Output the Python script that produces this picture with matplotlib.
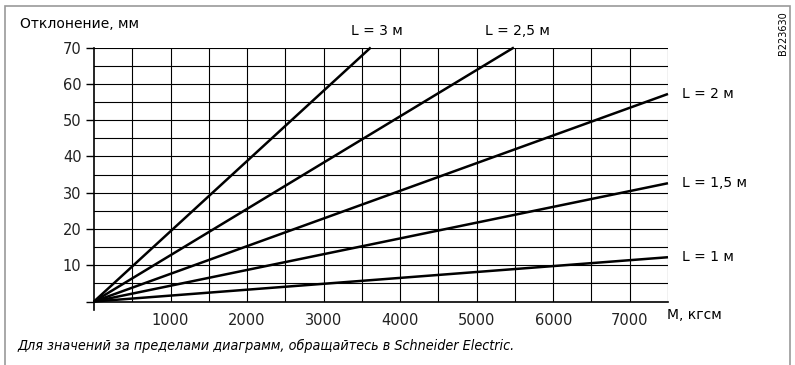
import matplotlib
matplotlib.use("Agg")
import matplotlib.pyplot as plt
from matplotlib.patches import Rectangle

# Data: straight lines from origin, endpoints
series_labels = ["L = 1 м", "L = 1,5 м", "L = 2 м", "L = 2,5 м", "L = 3 м"]
series_x = [[0, 7500], [0, 7500], [0, 7500], [0, 5486], [0, 3616]]
series_y = [[0, 12.2], [0, 32.6], [0, 57.2], [0, 70], [0, 70]]
x_ticks = [1000, 2000, 3000, 4000, 5000, 6000, 7000]
y_ticks = [10, 20, 30, 40, 50, 60, 70]

plt.rcParams['font.family'] = ['DejaVu Sans']

fig = plt.figure(figsize=(7.95, 3.65), dpi=100)
W, H = 795, 365
left, right, top, bottom = 94, 668, 47.5, 301.5
ax = fig.add_axes([left / W, 1 - bottom / H, (right - left) / W, (bottom - top) / H])
ax.set_xlim(0, 7500)
ax.set_ylim(0, 70)

# grid
for gx in range(500, 7501, 500):
    ax.axvline(gx, color='black', lw=0.8, zorder=1)
for gy in range(5, 71, 5):
    ax.axhline(gy, color='black', lw=0.8, zorder=1)

for xs, ys in zip(series_x, series_y):
    ax.plot(xs, ys, color='black', lw=1.8, solid_capstyle='butt', zorder=3, clip_on=False)

for s in ['top', 'right']:
    ax.spines[s].set_visible(False)
for s in ['left', 'bottom']:
    ax.spines[s].set_linewidth(1.2)

ax.set_xticks([0] + x_ticks)
ax.set_xticklabels([""] + [str(v) for v in x_ticks], fontsize=10.5, color='#222222')
ax.set_yticks([0] + y_ticks)
ax.set_yticklabels([""] + [str(v) for v in y_ticks], fontsize=10.5, color='#222222')
ax.tick_params(axis='x', length=0, pad=8)
ax.tick_params(axis='y', length=6, width=1.0, pad=3)
# x tick at 0 only
ax.plot([0, 0], [0, -0.035], transform=ax.get_xaxis_transform(), color='black', lw=1.2, clip_on=False)

fs = 10
# labels
fig.text(20 / W, 1 - 24 / H, "Отклонение, мм", fontsize=fs, ha='left', va='center')
fig.text(667 / W, 1 - 315 / H, "M, кгсм", fontsize=fs, ha='left', va='center')
fig.text(377 / W, 1 - 31 / H, "L = 3 м", fontsize=fs, ha='center', va='center')
fig.text(517 / W, 1 - 31 / H, "L = 2,5 м", fontsize=fs, ha='center', va='center')
for lab, yv in zip(series_labels[:3], [12.2, 32.6, 57.2]):
    ax.annotate(lab, xy=(7500, yv), xytext=(10, 0), textcoords='offset points',
                fontsize=fs, ha='left', va='center', annotation_clip=False)

fig.text(783 / W, 1 - 33 / H, "B223630", fontsize=7, rotation=90, ha='center', va='center')
fig.text(17 / W, 1 - 346 / H, "Для значений за пределами диаграмм, обращайтесь в Schneider Electric.",
         fontsize=10.3, style='italic', stretch='condensed', ha='left', va='center',
         family=['Liberation Sans Narrow', 'DejaVu Sans'])

# outer frame
fig.patches.append(Rectangle((5 / W, -0.1), (790 - 5) / W, 1.1 - 6 / H, transform=fig.transFigure,
                             fill=False, edgecolor='#999999', lw=1.2))

fig.savefig("out.png", dpi=100)
